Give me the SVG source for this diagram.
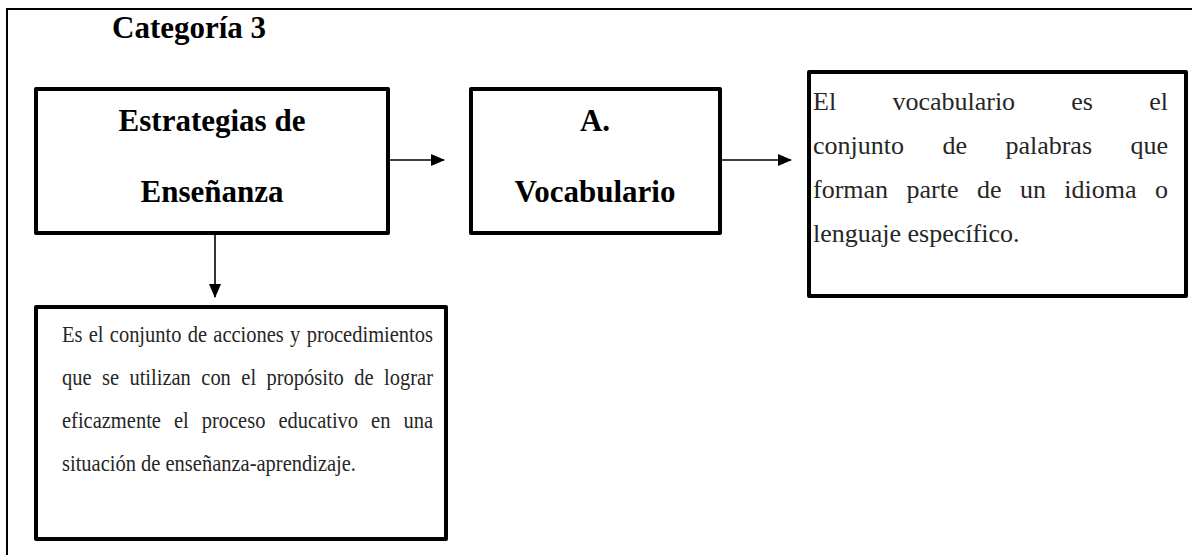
<svg xmlns="http://www.w3.org/2000/svg" width="1192" height="555" viewBox="0 0 1192 555">
<style>
.box{fill:#fff;stroke:#000;stroke-width:4;stroke-linejoin:round}
.title{font-family:"Liberation Serif","Times New Roman",serif;font-weight:bold;font-size:31px;fill:#000}
.body{font-family:"Liberation Serif","Times New Roman",serif;fill:#262626}
.b1{font-size:23px}
.b2{font-size:26px}
.conn{stroke:#000;stroke-width:1.6;fill:none}
</style>
<defs>
<marker id="ah" markerWidth="14" markerHeight="12" refX="13" refY="6" orient="auto" markerUnits="userSpaceOnUse" viewBox="0 0 14 12">
<path d="M0,0 L14,6 L0,12 z" fill="#000"/>
</marker>
</defs>
<rect width="1192" height="555" fill="#fff"/>
<g id="frame">
<path d="M7,555 L7,9 L1192,9" fill="none" stroke="#000" stroke-width="2"/>
</g>
<g id="heading">
<text class="title" x="112" y="38">Categoría 3</text>
</g>
<g id="connectors">
<line class="conn" x1="389" y1="160" x2="444" y2="160" marker-end="url(#ah)"/>
<line class="conn" x1="721" y1="160" x2="791" y2="160" marker-end="url(#ah)"/>
<line class="conn" x1="215" y1="234" x2="215" y2="297" marker-end="url(#ah)"/>
</g>
<g id="node-estrategias">
<rect class="box" x="36" y="89" width="352" height="144"/>
<text class="title" x="212" y="131" text-anchor="middle">Estrategias de</text>
<text class="title" x="212" y="202" text-anchor="middle">Enseñanza</text>
</g>
<g id="node-vocabulario">
<rect class="box" x="471" y="89" width="249" height="144"/>
<text class="title" x="595" y="131" text-anchor="middle">A.</text>
<text class="title" x="595" y="202" text-anchor="middle">Vocabulario</text>
</g>
<g id="node-definicion-vocabulario">
<rect class="box" x="809" y="72" width="377" height="224"/>
<g class="body b2">
<text x="813" y="110">El</text>
<text x="892.4" y="110">vocabulario</text>
<text x="1071.3" y="110">es</text>
<text x="1168" y="110" text-anchor="end">el</text>
<text x="813" y="154">conjunto</text>
<text x="942.4" y="154">de</text>
<text x="1005.4" y="154">palabras</text>
<text x="1168" y="154" text-anchor="end">que</text>
<text x="813" y="198">forman</text>
<text x="906.5" y="198">parte</text>
<text x="976.9" y="198">de</text>
<text x="1019.9" y="198">un</text>
<text x="1064.3" y="198">idioma</text>
<text x="1168" y="198" text-anchor="end">o</text>
<text x="813" y="242">lenguaje específico.</text>
</g>
</g>
<g id="node-definicion-estrategias">
<rect class="box" x="36" y="307" width="410" height="232"/>
<g class="body b1" transform="translate(62 0) scale(0.8913 1)">
<text x="0" y="342">Es</text>
<text x="29.96" y="342">el</text>
<text x="53.63" y="342">conjunto</text>
<text x="141.03" y="342">de</text>
<text x="169.75" y="342">acciones</text>
<text x="255.92" y="342">y</text>
<text x="416.25" y="342" text-anchor="end">procedimientos</text>
<text x="0" y="385">que</text>
<text x="44.88" y="385">se</text>
<text x="75.62" y="385">utilizan</text>
<text x="156.29" y="385">con</text>
<text x="201.17" y="385">el</text>
<text x="229.44" y="385">propósito</text>
<text x="327.95" y="385">de</text>
<text x="416.25" y="385" text-anchor="end">lograr</text>
<text x="0" y="428">eficazmente</text>
<text x="125.66" y="428">el</text>
<text x="156.74" y="428">proceso</text>
<text x="242.9" y="428">educativo</text>
<text x="346.8" y="428">en</text>
<text x="416.25" y="428" text-anchor="end">una</text>
<text x="0" y="471">situación de enseñanza-aprendizaje.</text>
</g>
</g>
</svg>
